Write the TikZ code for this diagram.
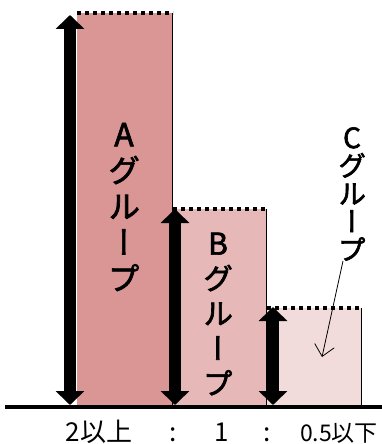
\documentclass[tikz,border=0pt]{standalone}
\usepackage{fontspec}
\setmainfont{Noto Sans CJK JP}
\newfontfamily\jpvert[RawFeature=+vert, FakeBold=2.2]{Noto Sans CJK JP}
\usetikzlibrary{arrows.meta,positioning}
\definecolor{grpA}{HTML}{DA9694}
\definecolor{grpB}{HTML}{E6B9B8}
\definecolor{grpC}{HTML}{F2DCDB}
\tikzset{
  bartop/.style={line width=3.5pt, dash pattern=on 4pt off 4pt},
  baredge/.style={line width=0.8pt},
  heightarrow/.style={{Triangle[length=14pt,width=28pt]}-{Triangle[length=14pt,width=28pt]}, line width=12pt},
  grouplabel/.style={align=center, inner sep=0pt},
  ratiolabel/.style={inner sep=0pt, anchor=base},
  pointer/.style={-{Straight Barb[length=11pt,width=20pt]}, line width=0.8pt}
}

\begin{document}
\begin{tikzpicture}[x=1pt, y=-1pt]
  \useasboundingbox (0,0) rectangle (382,444);
  % bars
  \fill[grpA] (77,13) rectangle (172,407);
  \fill[grpB] (172,209) rectangle (266,407);
  \fill[grpC] (266,308) rectangle (361,407);
  \draw[baredge] (172,13) -- (172,407);
  \draw[baredge] (266,209) -- (266,407);
  \draw[baredge] (361,308) -- (361,407);
  \draw[bartop] (77,13) -- (173,13);
  \draw[bartop] (173,209) -- (266,209);
  \draw[bartop] (267,308) -- (361,308);
  % base line
  \draw[line width=4pt] (5,407) -- (382,407);
  % height arrows
  \coordinate (atop) at (70,15);
  \coordinate (abot) at (70,405);
  \coordinate (btop) at (175,209);
  \coordinate (bbot) at (175,405);
  \coordinate (ctop) at (273,307);
  \coordinate (cbot) at (273,405);
  \draw[heightarrow] (abot) -- (atop);
  \draw[heightarrow] (bbot) -- (btop);
  \draw[heightarrow] (cbot) -- (ctop);
  % group labels
  \node[grouplabel, font=\jpvert\fontsize{32}{36}\selectfont] (alabel) at (124,207) {A\\グ\\ル\\ー\\プ};
  \node[grouplabel, font=\jpvert\fontsize{30}{35}\selectfont] (blabel) at (218,314) {B\\グ\\ル\\ー\\プ};
  \node[grouplabel, font=\jpvert\fontsize{28}{28}\selectfont] (clabel) at (352,194) {C\\グ\\ル\\ー\\プ};
  \coordinate (cpoint) at (322,357);
  \draw[pointer] ([xshift=-9pt]clabel.south) -- (cpoint);
  % ratio
  \node[ratiolabel, font=\fontsize{26}{26}\selectfont] (ratioa) at (99,441) {2以上};
  \node[ratiolabel, font=\fontsize{26}{26}\selectfont] (colona) at (173,441) {:};
  \node[ratiolabel, font=\fontsize{26}{26}\selectfont] (ratiob) at (222,441) {1};
  \node[ratiolabel, font=\fontsize{26}{26}\selectfont] (colonb) at (267,441) {:};
  \node[ratiolabel, font=\fontsize{23}{23}\selectfont] (ratioc) at (339,441) {0.5以下};
\end{tikzpicture}
\end{document}
